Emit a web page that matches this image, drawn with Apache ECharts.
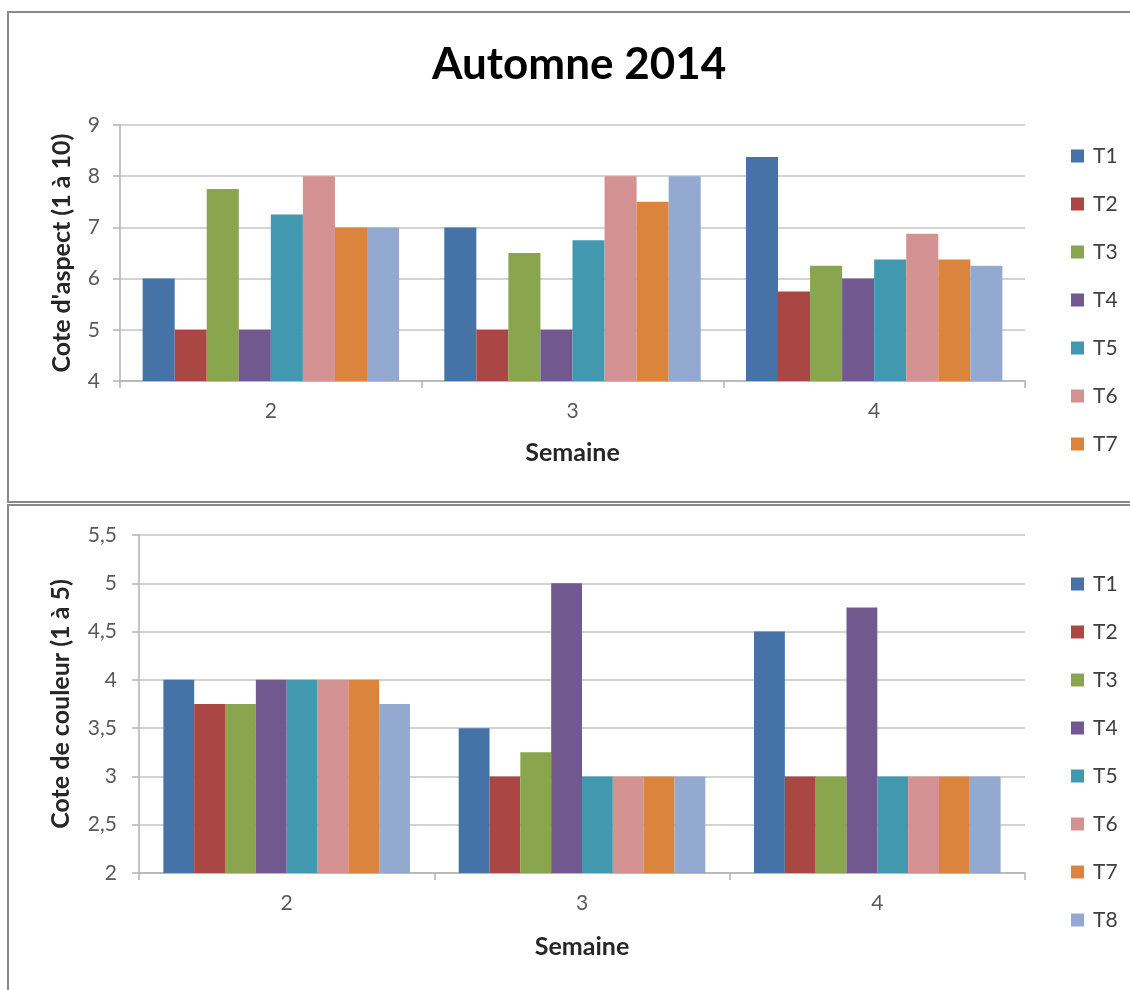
<!DOCTYPE html>
<html>
<head>
<meta charset="utf-8">
<script src="https://cdn.jsdelivr.net/npm/echarts@6/dist/echarts.min.js"></script>
<style>
  html, body { margin: 0; padding: 0; background: #fff; }
  #chart { width: 1130px; height: 990px; }
</style>
</head>
<body>
<div id="chart"></div>
<script>
// Weeks and treatments
const weeks = ['2', '3', '4'];
const treatments = ['T1', 'T2', 'T3', 'T4', 'T5', 'T6', 'T7', 'T8'];
const treatmentColors = ['#4572A7', '#AA4643', '#89A54E', '#71588F', '#4198AF', '#D39291', '#DB843D', '#93A9CF'];

// Aspect rating (1 to 10), one array per treatment, values for weeks 2, 3, 4
const aspectT1 = [6, 7, 8.375];
const aspectT2 = [5, 5, 5.75];
const aspectT3 = [7.75, 6.5, 6.25];
const aspectT4 = [5, 5, 6];
const aspectT5 = [7.25, 6.75, 6.375];
const aspectT6 = [8, 8, 6.875];
const aspectT7 = [7, 7.5, 6.375];
const aspectT8 = [7, 8, 6.25];

// Colour rating (1 to 5), one array per treatment, values for weeks 2, 3, 4
const colourT1 = [4, 3.5, 4.5];
const colourT2 = [3.75, 3, 3];
const colourT3 = [3.75, 3.25, 3];
const colourT4 = [4, 5, 4.75];
const colourT5 = [4, 3, 3];
const colourT6 = [4, 3, 3];
const colourT7 = [4, 3, 3];
const colourT8 = [3.75, 3, 3];

// Tick labels of the colour axis (French decimal comma)
const colourTickValues = [2, 2.5, 3, 3.5, 4, 4.5, 5, 5.5];
const colourTickLabels = ['2', '2,5', '3', '3,5', '4', '4,5', '5', '5,5'];

const aspectData = [aspectT1, aspectT2, aspectT3, aspectT4, aspectT5, aspectT6, aspectT7, aspectT8];
const colourData = [colourT1, colourT2, colourT3, colourT4, colourT5, colourT6, colourT7, colourT8];

const FONT = 'Lato, "Open Sans", sans-serif';
const tickColor = '#595959';
const gridColor = '#c4c4c4';
const nameStyle = { fontFamily: FONT, fontSize: 25, fontWeight: 'bold', color: '#262626' };

function xAxisFor(gridIndex, nameGap) {
  return {
    type: 'category',
    gridIndex: gridIndex,
    data: weeks,
    name: 'Semaine',
    nameLocation: 'middle',
    nameGap: nameGap,
    nameTextStyle: nameStyle,
    axisLine: { lineStyle: { color: '#b3b3b3', width: 1.5 } },
    axisTick: { show: true, alignWithLabel: false, length: 7, lineStyle: { color: '#b3b3b3', width: 1.5 } },
    axisLabel: { fontFamily: FONT, fontSize: 21, color: tickColor, margin: 20 },
    splitLine: { show: false }
  };
}

const series = [];
treatments.forEach((name, i) => {
  series.push({
    name: name,
    type: 'bar',
    xAxisIndex: 0,
    yAxisIndex: 0,
    data: aspectData[i],
    itemStyle: { color: treatmentColors[i] },
    barGap: '0%',
    barCategoryGap: '15%'
  });
});
treatments.forEach((name, i) => {
  series.push({
    name: name,
    type: 'bar',
    xAxisIndex: 1,
    yAxisIndex: 1,
    data: colourData[i],
    itemStyle: { color: treatmentColors[i] },
    barGap: '0%',
    barCategoryGap: '16.5%'
  });
});

const legendCommon = {
  orient: 'vertical',
  left: 1066,
  itemWidth: 13,
  itemHeight: 13,
  itemGap: 26,
  icon: 'rect',
  textStyle: { fontFamily: FONT, fontSize: 21, color: '#404040', lineHeight: 22, padding: [0, 0, 0, 4] },
  selectedMode: false
};

const option = {
  animation: false,
  backgroundColor: '#ffffff',
  title: {
    text: 'Automne 2014',
    left: 427,
    top: 38,
    textStyle: { fontFamily: FONT, fontSize: 44, fontWeight: 'bold', color: '#000' }
  },
  graphic: [
    // frame of the upper panel
    { type: 'rect', shape: { x: 8, y: 12, width: 1140, height: 490 },
      style: { fill: 'none', stroke: '#8a8a8a', lineWidth: 2 }, silent: true, z: -1 },
    // frame of the lower panel
    { type: 'rect', shape: { x: 8, y: 505, width: 1140, height: 500 },
      style: { fill: 'none', stroke: '#8a8a8a', lineWidth: 2 }, silent: true, z: -1 }
  ],
  legend: [
    Object.assign({ top: 140, data: treatments.slice(0, 7) }, legendCommon),
    Object.assign({ top: 568, data: treatments.slice() }, legendCommon)
  ],
  grid: [
    { left: 120, top: 125, width: 905, height: 256 },
    { left: 139, top: 535, width: 886, height: 338 }
  ],
  xAxis: [xAxisFor(0, 59), xAxisFor(1, 61)],
  yAxis: [
    {
      type: 'value',
      gridIndex: 0,
      min: 4, max: 9, interval: 1,
      name: "Cote d'aspect (1 à 10)",
      nameLocation: 'middle',
      nameGap: 46,
      nameTextStyle: nameStyle,
      axisLine: { show: true, lineStyle: { color: '#b3b3b3', width: 1.5 } },
      axisTick: { show: true, length: 7, lineStyle: { color: '#b3b3b3', width: 1.5 } },
      axisLabel: { fontFamily: FONT, fontSize: 21, color: tickColor, margin: 20 },
      splitLine: { lineStyle: { color: gridColor, width: 1.5 } }
    },
    {
      type: 'value',
      gridIndex: 1,
      min: 2, max: 5.5, interval: 0.5,
      name: 'Cote de couleur (1 à 5)',
      nameLocation: 'middle',
      nameGap: 66,
      nameTextStyle: nameStyle,
      axisLine: { show: true, lineStyle: { color: '#b3b3b3', width: 1.5 } },
      axisTick: { show: true, length: 7, lineStyle: { color: '#b3b3b3', width: 1.5 } },
      axisLabel: {
        fontFamily: FONT, fontSize: 21, color: tickColor, margin: 22,
        formatter: v => {
          const k = colourTickValues.indexOf(v);
          return k >= 0 ? colourTickLabels[k] : String(v);
        }
      },
      splitLine: { lineStyle: { color: gridColor, width: 1.5 } }
    }
  ],
  series: series
};

const chart = echarts.init(document.getElementById('chart'), null, { renderer: 'canvas' });
chart.setOption(option);
</script>
</body>
</html>
